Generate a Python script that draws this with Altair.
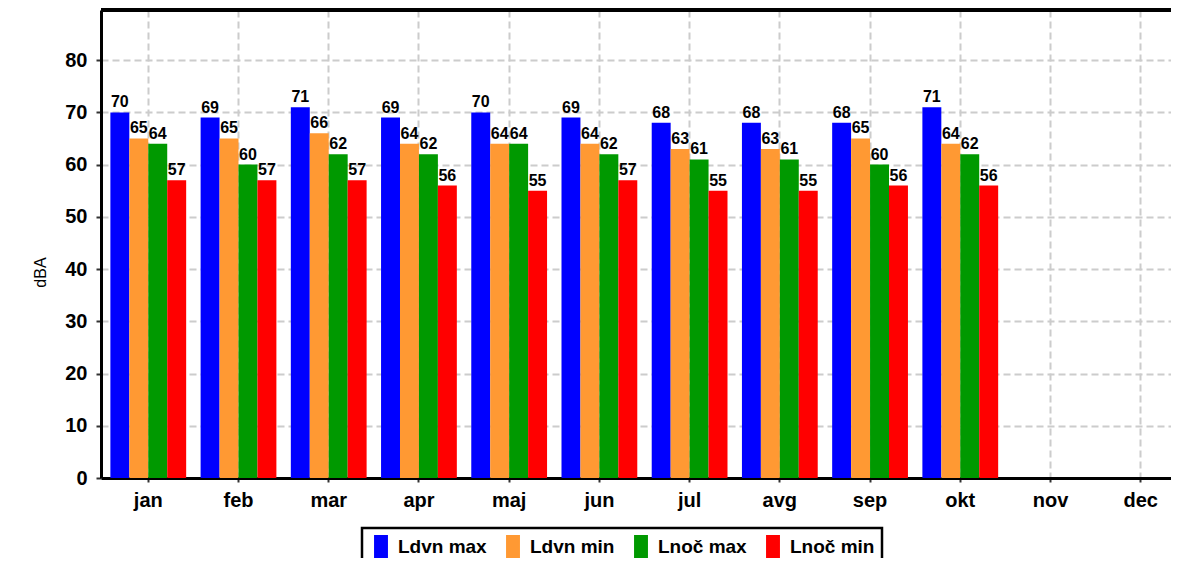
import altair as alt
import pandas as pd

months = ["jan", "feb", "mar", "apr", "maj", "jun", "jul", "avg", "sep", "okt", "nov", "dec"]
series = ["Ldvn max", "Ldvn min", "Lnoč max", "Lnoč min"]
colors = ["#0000FF", "#FF9933", "#009900", "#FF0000"]

ldvn_max = [70, 69, 71, 69, 70, 69, 68, 68, 68, 71]
ldvn_min = [65, 65, 66, 64, 64, 64, 63, 63, 65, 64]
lnoc_max = [64, 60, 62, 62, 64, 62, 61, 61, 60, 62]
lnoc_min = [57, 57, 57, 56, 55, 57, 55, 55, 56, 56]

y_ticks = [0, 10, 20, 30, 40, 50, 60, 70, 80]

rows = []
for s, vals in zip(series, [ldvn_max, ldvn_min, lnoc_max, lnoc_min]):
    for m, v in zip(months, vals):
        rows.append({"month": m, "series": s, "value": v})
df = pd.DataFrame(rows)

W, H = 1070, 468
XR = 1087
FONT = "Liberation Sans"

x_scale = alt.Scale(domain=months, range=[0, XR], paddingInner=0.16, paddingOuter=0.104)

x_enc = alt.X("month:N", sort=months, scale=x_scale,
              axis=alt.Axis(title=None, labelAngle=0, bandPosition=0.5,
                            labelFont=FONT, labelFontSize=20, labelFontWeight="bold",
                            labelColor="#000000", labelPadding=8,
                            domainColor="#000000", domainWidth=3,
                            tickColor="#333333", tickSize=4, tickWidth=2,
                            grid=True, gridColor="#cccccc", gridDash=[7, 4], gridWidth=2))
xo_enc = alt.XOffset("series:N", sort=series,
                     scale=alt.Scale(domain=series, paddingInner=0, paddingOuter=0))
y_enc = alt.Y("value:Q",
              scale=alt.Scale(domain=[0, 89.6], nice=False, zero=True),
              axis=alt.Axis(title="dBA", values=y_ticks,
                            titleFont=FONT, titleFontSize=16, titleFontWeight="normal",
                            titleColor="#000000", titleAngle=-90,
                            titleX=-61, titleY=262, titleAlign="center", titleBaseline="middle",
                            labelFont=FONT, labelFontSize=20, labelFontWeight="bold",
                            labelColor="#000000", labelPadding=9,
                            domainColor="#000000", domainWidth=3,
                            tickColor="#333333", tickSize=5, tickWidth=2,
                            grid=True, gridColor="#cccccc", gridDash=[7, 4], gridWidth=2))

color_enc = alt.Color("series:N", sort=series,
                      scale=alt.Scale(domain=series, range=colors),
                      legend=alt.Legend(title=None, orient="none", legendX=261, legendY=518,
                                        direction="horizontal", columns=4,
                                        symbolType="M-0.58,-1H0.58V1H-0.58Z", symbolSize=576,
                                        symbolOpacity=1, symbolStrokeWidth=0,
                                        labelFont=FONT, labelFontSize=19, labelFontWeight="bold",
                                        labelColor="#000000", labelOffset=5,
                                        columnPadding=14, padding=7,
                                        fillColor="#ffffff"))

base = alt.Chart(df)

bars = base.mark_bar(opacity=1).encode(x=x_enc, xOffset=xo_enc, y=y_enc, color=color_enc)

labels = base.mark_text(baseline="bottom", dy=-2, font=FONT, fontSize=16,
                        fontWeight="bold", color="#000000").encode(
    x=alt.X("month:N", sort=months), xOffset=xo_enc, y="value:Q", text="value:Q")

top_line = alt.Chart(df).mark_rule(color="#000000", strokeWidth=3).encode(
    x=alt.value(0), x2=alt.value(XR), y=alt.value(0))

chart = alt.layer(bars, labels, top_line).properties(
    width=W, height=H,
    autosize=alt.AutoSizeParams(type="none"),
    padding={"left": 93, "top": 2, "right": 0, "bottom": 80},
).configure_view(stroke=None).configure(background="#ffffff").configure_legend(
    strokeColor="#000000", strokeWidth=2.5)

chart.save("out.html", embed_options={"renderer": "svg", "actions": False})
